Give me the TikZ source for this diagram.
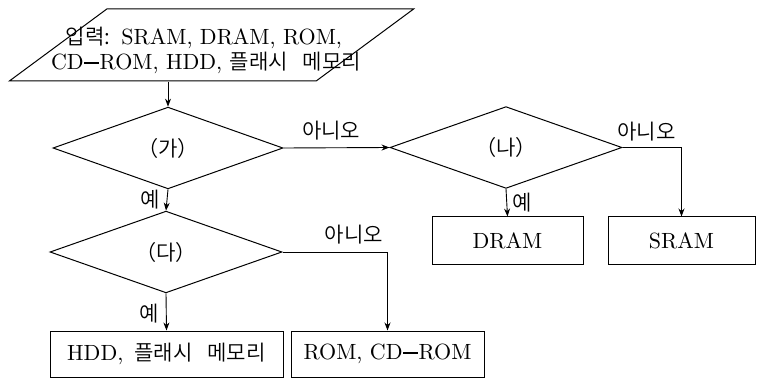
\documentclass[tikz,border=0pt]{standalone}
\usepackage{fontspec}
\setmainfont{lmroman10-regular.otf}
\newfontfamily\kr[Scale=0.96]{Noto Sans CJK KR DemiLight}
\newcommand\cddash{\kern0.5pt\rule[0.27em]{0.68em}{2.1pt}\kern0.5pt}
\newcommand\ksp{\hskip0.7em}
\usetikzlibrary{shapes.geometric,arrows.meta}
\begin{document}
\begin{tikzpicture}[x=1pt,y=-1pt,
  every node/.style={font=\fontsize{22}{25}\selectfont},
  dec/.style={draw, diamond, inner sep=0pt, line width=1pt},
  box/.style={draw, rectangle, inner sep=0pt, line width=1pt, minimum height=47pt},
  io/.style={draw, trapezium, trapezium left angle=60.3, trapezium right angle=119.7, trapezium stretches=true, minimum width=405pt, minimum height=72pt, line width=1pt, inner sep=0pt},
  txt/.style={inner sep=0pt, anchor=base},
  arr/.style={-{Stealth[length=8pt,width=6pt]}, line width=0.9pt},
  lab/.style={font=\kr\fontsize{22}{24}\selectfont, inner sep=2pt}]
\useasboundingbox (0,0) rectangle (762,379);
\node[io] (in) at (211.5,45) {\phantom{x}};
\node[txt] (line1) at (204,45) {{\kr 입력:}\hskip0.5em SRAM, DRAM, ROM,};
\node[txt] (line2) at (206,70) {CD\cddash ROM, HDD, {\kr 플래시\ksp 메모리}};
\node[dec, minimum width=230pt, minimum height=60pt] (ga) at (168,148) {\kr （가）};
\node[dec, minimum width=232pt, minimum height=61pt] (na) at (506,147.5) {\kr （나）};
\node[dec, minimum width=232pt, minimum height=60pt] (da) at (166,252) {\kr （다）};
\node[box, minimum width=151pt] (dram) at (507.5,240.5) {DRAM};
\node[box, minimum width=147pt] (sram) at (681.5,240.5) {SRAM};
\node[box, minimum width=233pt, minimum height=46pt] (hdd) at (166.5,354) {HDD,\, {\kr 플래시\ksp 메모리}};
\node[box, minimum width=193pt, minimum height=46pt] (rom) at (387.5,354) {ROM, CD\cddash ROM};
\draw[arr] (in.south -| ga.north) -- (ga.north);
\draw[arr] (ga.east) -- node[lab, above=5pt, pos=0.45]{아니오} (na.west);
\draw[arr] (ga.south) -- node[lab, left=5pt]{예} (da.north);
\draw[arr] (na.south) -- node[lab, right=3pt]{예} (dram.north);
\draw[arr] (na.east) -| node[lab, above=4pt, pos=0.205]{아니오} (sram.north);
\draw[arr] (da.east) -| node[lab, above=5pt, pos=0.34]{아니오} (rom.north);
\draw[arr] (da.south) -- node[lab, left=5pt, pos=0.55]{예} (hdd.north);
\end{tikzpicture}
\end{document}
